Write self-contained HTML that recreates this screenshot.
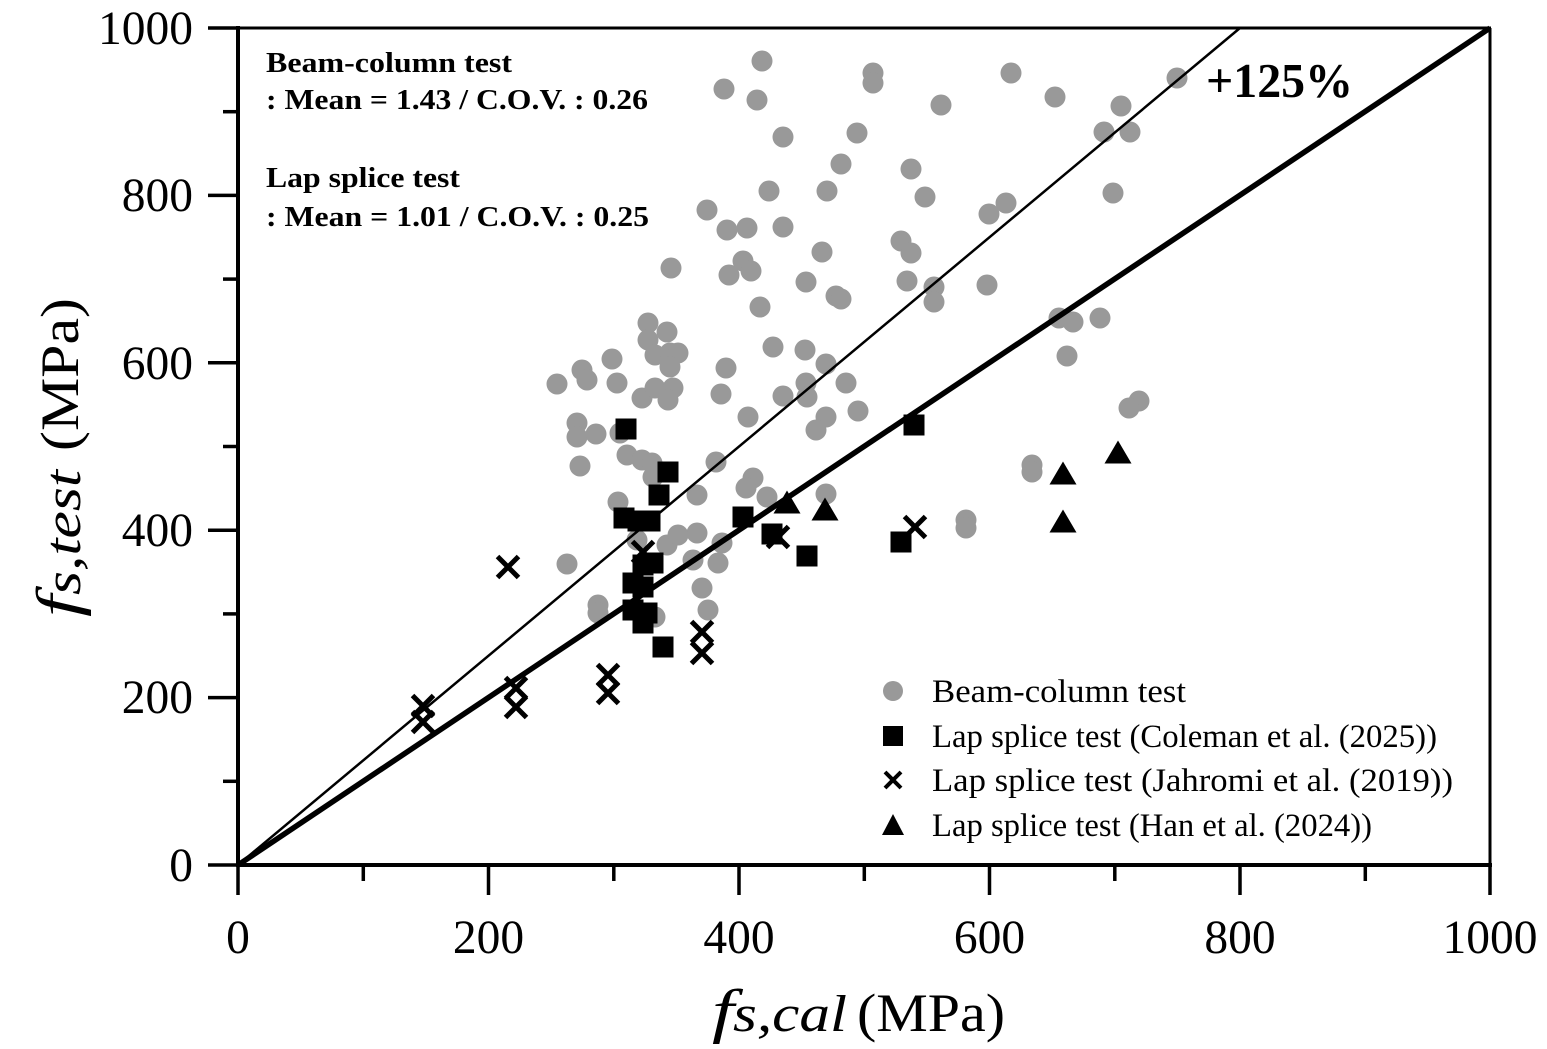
<!DOCTYPE html>
<html><head><meta charset="utf-8"><style>
html,body{margin:0;padding:0;background:#fff;}
svg{display:block;}
text{font-family:"Liberation Serif",serif;fill:#000;}
</style></head><body>
<svg width="1547" height="1049" viewBox="0 0 1547 1049" xmlns="http://www.w3.org/2000/svg">
<rect width="1547" height="1049" fill="#fff"/>
<!-- gray circles -->
<g fill="#999999">
<circle cx="762" cy="61" r="10.5"/><circle cx="724" cy="89" r="10.5"/><circle cx="757" cy="100" r="10.5"/>
<circle cx="873" cy="73" r="10.5"/><circle cx="873" cy="83" r="10.5"/><circle cx="941" cy="105" r="10.5"/>
<circle cx="783" cy="137" r="10.5"/><circle cx="857" cy="133" r="10.5"/><circle cx="841" cy="164" r="10.5"/>
<circle cx="911" cy="169" r="10.5"/><circle cx="769" cy="191" r="10.5"/><circle cx="827" cy="191" r="10.5"/>
<circle cx="925" cy="197" r="10.5"/><circle cx="989" cy="214" r="10.5"/><circle cx="1006" cy="203" r="10.5"/>
<circle cx="707" cy="210" r="10.5"/><circle cx="727" cy="230" r="10.5"/><circle cx="747" cy="228" r="10.5"/>
<circle cx="783" cy="227" r="10.5"/><circle cx="822" cy="252" r="10.5"/><circle cx="901" cy="241" r="10.5"/>
<circle cx="911" cy="253" r="10.5"/><circle cx="671" cy="268" r="10.5"/><circle cx="743" cy="261" r="10.5"/>
<circle cx="729" cy="275" r="10.5"/><circle cx="751" cy="271" r="10.5"/><circle cx="806" cy="282" r="10.5"/>
<circle cx="836" cy="296" r="10.5"/><circle cx="841" cy="299" r="10.5"/><circle cx="907" cy="281" r="10.5"/>
<circle cx="934" cy="287" r="10.5"/><circle cx="934" cy="302" r="10.5"/><circle cx="987" cy="285" r="10.5"/>
<circle cx="760" cy="307" r="10.5"/><circle cx="1011" cy="73" r="10.5"/><circle cx="1055" cy="97" r="10.5"/>
<circle cx="1121" cy="106" r="10.5"/><circle cx="1104" cy="132" r="10.5"/><circle cx="1130" cy="132" r="10.5"/>
<circle cx="1177" cy="78" r="10.5"/><circle cx="1113" cy="193" r="10.5"/><circle cx="1059" cy="318" r="10.5"/>
<circle cx="1073" cy="322" r="10.5"/><circle cx="1100" cy="318" r="10.5"/><circle cx="1067" cy="356" r="10.5"/>
<circle cx="1139" cy="401" r="10.5"/><circle cx="1129" cy="408" r="10.5"/><circle cx="1032" cy="465" r="10.5"/>
<circle cx="1032" cy="472" r="10.5"/><circle cx="966" cy="520" r="10.5"/><circle cx="966" cy="528" r="10.5"/>
<circle cx="648" cy="323" r="10.5"/><circle cx="667" cy="332" r="10.5"/><circle cx="648" cy="340" r="10.5"/>
<circle cx="655" cy="355" r="10.5"/><circle cx="670" cy="353" r="10.5"/><circle cx="678" cy="353" r="10.5"/>
<circle cx="670" cy="367" r="10.5"/><circle cx="612" cy="359" r="10.5"/><circle cx="582" cy="370" r="10.5"/>
<circle cx="587" cy="380" r="10.5"/><circle cx="557" cy="384" r="10.5"/><circle cx="617" cy="383" r="10.5"/>
<circle cx="642" cy="398" r="10.5"/><circle cx="655" cy="388" r="10.5"/><circle cx="673" cy="388" r="10.5"/>
<circle cx="668" cy="400" r="10.5"/><circle cx="726" cy="368" r="10.5"/><circle cx="721" cy="394" r="10.5"/>
<circle cx="748" cy="417" r="10.5"/><circle cx="773" cy="347" r="10.5"/><circle cx="805" cy="350" r="10.5"/>
<circle cx="826" cy="364" r="10.5"/><circle cx="846" cy="383" r="10.5"/><circle cx="806" cy="383" r="10.5"/>
<circle cx="783" cy="396" r="10.5"/><circle cx="807" cy="397" r="10.5"/><circle cx="858" cy="411" r="10.5"/>
<circle cx="826" cy="417" r="10.5"/><circle cx="816" cy="430" r="10.5"/><circle cx="577" cy="423" r="10.5"/>
<circle cx="577" cy="437" r="10.5"/><circle cx="596" cy="434" r="10.5"/><circle cx="620" cy="433" r="10.5"/>
<circle cx="580" cy="466" r="10.5"/><circle cx="627" cy="455" r="10.5"/><circle cx="642" cy="460" r="10.5"/>
<circle cx="652" cy="463" r="10.5"/><circle cx="653" cy="477" r="10.5"/><circle cx="716" cy="462" r="10.5"/>
<circle cx="753" cy="478" r="10.5"/><circle cx="746" cy="488" r="10.5"/><circle cx="767" cy="497" r="10.5"/>
<circle cx="697" cy="495" r="10.5"/><circle cx="618" cy="502" r="10.5"/><circle cx="826" cy="494" r="10.5"/>
<circle cx="697" cy="533" r="10.5"/><circle cx="722" cy="543" r="10.5"/><circle cx="718" cy="563" r="10.5"/>
<circle cx="667" cy="545" r="10.5"/><circle cx="678" cy="535" r="10.5"/><circle cx="693" cy="560" r="10.5"/>
<circle cx="637" cy="540" r="10.5"/><circle cx="567" cy="564" r="10.5"/><circle cx="598" cy="605" r="10.5"/>
<circle cx="598" cy="613" r="10.5"/><circle cx="702" cy="588" r="10.5"/><circle cx="708" cy="610" r="10.5"/>
<circle cx="655" cy="617" r="10.5"/>
</g>
<!-- reference lines -->
<line x1="238" y1="865" x2="1490" y2="28" stroke="#000" stroke-width="5.5"/>
<line x1="238" y1="865" x2="1240" y2="28" stroke="#000" stroke-width="2.5"/>
<!-- squares -->
<g fill="#000">
<rect x="615.5" y="418.5" width="21" height="21"/><rect x="613.5" y="507.5" width="21" height="21"/>
<rect x="627.5" y="510.5" width="21" height="21"/><rect x="639.5" y="510.5" width="21" height="21"/>
<rect x="657.5" y="461.5" width="21" height="21"/><rect x="648.5" y="484.5" width="21" height="21"/>
<rect x="732.5" y="506.5" width="21" height="21"/><rect x="761.5" y="523.5" width="21" height="21"/>
<rect x="796.5" y="545.5" width="21" height="21"/><rect x="890.5" y="531.5" width="21" height="21"/>
<rect x="903.5" y="414.5" width="21" height="21"/><rect x="652.5" y="636.5" width="21" height="21"/>
<rect x="632.5" y="554.5" width="21" height="21"/><rect x="642.5" y="552.5" width="21" height="21"/>
<rect x="622.5" y="572.5" width="21" height="21"/><rect x="632.5" y="576.5" width="21" height="21"/>
<rect x="622.5" y="599.5" width="21" height="21"/><rect x="636.5" y="602.5" width="21" height="21"/>
<rect x="632.5" y="612.5" width="21" height="21"/>
</g>
<!-- X markers -->
<g stroke="#000" stroke-width="5" fill="none">
<path d="M497.5 556.5L518.5 577.5M518.5 556.5L497.5 577.5"/>
<path d="M412.5 695.5L433.5 716.5M433.5 695.5L412.5 716.5"/>
<path d="M412.5 711.5L433.5 732.5M433.5 711.5L412.5 732.5"/>
<path d="M505.5 677.5L526.5 698.5M526.5 677.5L505.5 698.5"/>
<path d="M505.5 696.5L526.5 717.5M526.5 696.5L505.5 717.5"/>
<path d="M597.5 664.5L618.5 685.5M618.5 664.5L597.5 685.5"/>
<path d="M597.5 682.5L618.5 703.5M618.5 682.5L597.5 703.5"/>
<path d="M691.5 621.5L712.5 642.5M712.5 621.5L691.5 642.5"/>
<path d="M691.5 642.5L712.5 663.5M712.5 642.5L691.5 663.5"/>
<path d="M632.5 541.5L653.5 562.5M653.5 541.5L632.5 562.5"/>
<path d="M767.5 526.5L788.5 547.5M788.5 526.5L767.5 547.5"/>
<path d="M904.5 516.5L925.5 537.5M925.5 516.5L904.5 537.5"/>
</g>
<!-- triangles -->
<g fill="#000">
<polygon points="787,490.5 800.5,513.5 773.5,513.5"/>
<polygon points="825,497.5 838.5,520.5 811.5,520.5"/>
<polygon points="1063,461.5 1076.5,484.5 1049.5,484.5"/>
<polygon points="1063,509.5 1076.5,532.5 1049.5,532.5"/>
<polygon points="1118,440.5 1131.5,463.5 1104.5,463.5"/>
</g>
<!-- frame -->
<line x1="238" y1="28" x2="1491" y2="28" stroke="#000" stroke-width="3"/>
<line x1="1490" y1="28" x2="1490" y2="866" stroke="#000" stroke-width="3"/>
<line x1="238" y1="26" x2="238" y2="867" stroke="#000" stroke-width="4"/>
<line x1="236" y1="865" x2="1492" y2="865" stroke="#000" stroke-width="4"/>
<!-- y ticks -->
<g stroke="#000" stroke-width="3.5">
<line x1="208" y1="28" x2="238" y2="28"/>
<line x1="223" y1="111.7" x2="238" y2="111.7"/>
<line x1="208" y1="195.4" x2="238" y2="195.4"/>
<line x1="223" y1="279.1" x2="238" y2="279.1"/>
<line x1="208" y1="362.8" x2="238" y2="362.8"/>
<line x1="223" y1="446.5" x2="238" y2="446.5"/>
<line x1="208" y1="530.2" x2="238" y2="530.2"/>
<line x1="223" y1="613.9" x2="238" y2="613.9"/>
<line x1="208" y1="697.6" x2="238" y2="697.6"/>
<line x1="223" y1="781.3" x2="238" y2="781.3"/>
<line x1="208" y1="865" x2="238" y2="865"/>
<!-- x ticks -->
<line x1="238" y1="865" x2="238" y2="895"/>
<line x1="363.3" y1="865" x2="363.3" y2="881"/>
<line x1="488.5" y1="865" x2="488.5" y2="895"/>
<line x1="613.8" y1="865" x2="613.8" y2="881"/>
<line x1="739" y1="865" x2="739" y2="895"/>
<line x1="864.3" y1="865" x2="864.3" y2="881"/>
<line x1="989.5" y1="865" x2="989.5" y2="895"/>
<line x1="1114.8" y1="865" x2="1114.8" y2="881"/>
<line x1="1240" y1="865" x2="1240" y2="895"/>
<line x1="1365.3" y1="865" x2="1365.3" y2="881"/>
<line x1="1490" y1="865" x2="1490" y2="895"/>
</g>
<!-- tick labels -->
<g font-size="47.5" text-anchor="end">
<text x="193" y="44">1000</text>
<text x="193" y="211">800</text>
<text x="193" y="379">600</text>
<text x="193" y="546">400</text>
<text x="193" y="713">200</text>
<text x="193" y="881">0</text>
</g>
<g font-size="47.5" text-anchor="middle">
<text x="238" y="953">0</text>
<text x="488.5" y="953">200</text>
<text x="739" y="953">400</text>
<text x="989.5" y="953">600</text>
<text x="1240" y="953">800</text>
<text x="1490" y="953">1000</text>
</g>
<!-- axis titles -->
<text x="712" y="1031" font-size="60" font-style="italic" textLength="22" lengthAdjust="spacingAndGlyphs">f</text>
<text x="733" y="1031" font-size="52" font-style="italic" textLength="114" lengthAdjust="spacingAndGlyphs">s,cal</text>
<text x="857" y="1031" font-size="54" textLength="148" lengthAdjust="spacingAndGlyphs">(MPa)</text>
<g transform="translate(78,617) rotate(-90)">
<text x="0" y="0" font-size="60" font-style="italic" textLength="22" lengthAdjust="spacingAndGlyphs">f</text>
<text x="22" y="2" font-size="52" font-style="italic" textLength="125" lengthAdjust="spacingAndGlyphs">s,test</text>
<text x="166" y="0" font-size="54" textLength="153" lengthAdjust="spacingAndGlyphs">(MPa)</text>
</g>
<!-- annotations -->
<g font-weight="bold" font-size="28.5">
<text x="266" y="72" textLength="246" lengthAdjust="spacingAndGlyphs">Beam-column test</text>
<text x="266" y="109" textLength="382" lengthAdjust="spacingAndGlyphs">: Mean = 1.43 / C.O.V. : 0.26</text>
<text x="266" y="187" textLength="194" lengthAdjust="spacingAndGlyphs">Lap splice test</text>
<text x="266" y="226" textLength="383" lengthAdjust="spacingAndGlyphs">: Mean = 1.01 / C.O.V. : 0.25</text>
</g>
<text x="1206" y="97" font-size="49" font-weight="bold" textLength="147" lengthAdjust="spacingAndGlyphs">+125%</text>
<!-- legend -->
<circle cx="893" cy="691" r="10" fill="#999999"/>
<rect x="883" y="726" width="20" height="20" fill="#000"/>
<path d="M885 772L901 788M901 772L885 788" stroke="#000" stroke-width="4" fill="none"/>
<polygon points="893,814 904,835 882,835" fill="#000"/>
<g font-size="32.5">
<text x="932" y="702" textLength="254" lengthAdjust="spacingAndGlyphs">Beam-column test</text>
<text x="932" y="747" textLength="505" lengthAdjust="spacingAndGlyphs">Lap splice test (Coleman et al. (2025))</text>
<text x="932" y="791" textLength="521" lengthAdjust="spacingAndGlyphs">Lap splice test (Jahromi et al. (2019))</text>
<text x="932" y="836" textLength="440" lengthAdjust="spacingAndGlyphs">Lap splice test (Han et al. (2024))</text>
</g>
</svg>
</body></html>
